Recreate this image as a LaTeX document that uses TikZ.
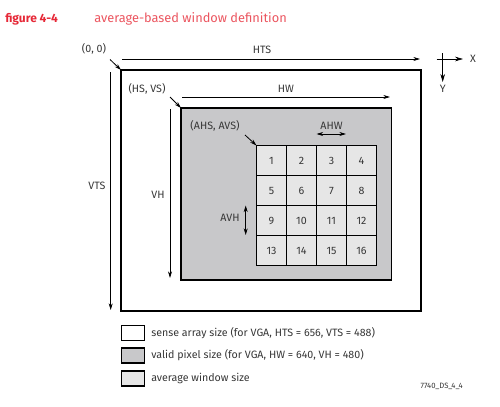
\documentclass[tikz,border=0pt]{standalone}
\usepackage{fontspec}
\setmainfont{Fira Sans}
\usetikzlibrary{arrows.meta}
\definecolor{titlered}{RGB}{230,40,55}
\definecolor{subred}{RGB}{235,85,95}
\definecolor{validgray}{RGB}{200,200,202}
\definecolor{avggray}{RGB}{230,230,230}
\definecolor{txt}{RGB}{55,55,55}
\tikzset{
  lbl/.style={font=\fontsize{8}{9.5}\selectfont\color{txt}, inner sep=0pt},
  dim/.style={line width=0.6pt, -{Stealth[length=5pt,width=3pt]}},
  dimboth/.style={line width=0.6pt, {Stealth[length=5pt,width=3pt]}-{Stealth[length=5pt,width=3pt]}},
  cell/.style={draw, line width=0.8pt, fill=avggray, minimum width=30*0.75pt, minimum height=30*0.75pt, inner sep=0pt, font=\fontsize{8}{9.5}\selectfont\color{txt}},
  legbox/.style={draw, line width=1pt, minimum width=23*0.75pt, minimum height=15*0.75pt, inner sep=0pt},
}
\begin{document}
\begin{tikzpicture}[x=0.75pt,y=-0.75pt]
\useasboundingbox (0,0) rectangle (500,407);
% title
\node[anchor=west, inner sep=0pt, font=\fontsize{9}{11}\selectfont\bfseries, text=titlered] (fig) at (5,19) {figure 4-4};
\node[anchor=west, inner sep=0pt, font=\fontsize{9.6}{11}\selectfont, text=subred] (ttl) at (94,19) {average-based window definition};
% outer rectangle
\draw[line width=1.1pt] (121,70) rectangle (421,311);
\coordinate (o) at (121,70);
% gray rectangle
\draw[line width=0.8pt, fill=validgray] (181,108) rectangle (391.5,280);
\coordinate (hs) at (181,108);
% grid
\foreach \r in {0,1,2,3}{
  \foreach \c in {0,1,2,3}{
    \pgfmathtruncatemacro{\n}{\r*4+\c+1}
    \node[cell] (c\n) at (256.5+15+30*\c, 145.5+15+30*\r) {\n};
  }
}
\coordinate (ahs) at (256.5,145.5);
% dimension arrows
\coordinate (htsL) at (122,59); \coordinate (htsR) at (420,59);
\draw[dim] (htsL) -- (htsR);
\node[lbl] (hts) at (262,50) {HTS};
\coordinate (hwL) at (182,97); \coordinate (hwR) at (390,97);
\draw[dim] (hwL) -- (hwR);
\node[lbl] (hw) at (286,89) {HW};
\coordinate (vtsT) at (110.7,72); \coordinate (vtsB) at (110.7,310);
\draw[dim] (vtsT) -- (vtsB);
\node[lbl] (vts) at (97,186) {VTS};
\coordinate (vhT) at (170,109); \coordinate (vhB) at (170,278);
\draw[dim] (vhT) -- (vhB);
\node[lbl] (vh) at (158,195) {VH};
% corner labels
\node[lbl] (zero) at (94,49) {(0, 0)};
\coordinate (zt) at (110,59.5);
\draw[dim] (zt) -- (o);
\node[lbl] (hsvs) at (147,89) {(HS, VS)};
\coordinate (ht) at (170,97);
\draw[dim] (ht) -- (hs);
\node[lbl] (ahsavs) at (215,126) {(AHS, AVS)};
\coordinate (at) at (245,135);
\draw[dim] (at) -- (ahs);
% AHW / AVH
\node[lbl] (ahw) at (331.5,125.5) {AHW};
\coordinate (ahwL) at (316.5,134); \coordinate (ahwR) at (346,134);
\draw[dimboth] (ahwL) -- (ahwR);
\node[lbl] (avh) at (230,218) {AVH};
\coordinate (avhT) at (245.7,205.5); \coordinate (avhB) at (245.7,235);
\draw[dimboth] (avhT) -- (avhB);
% axes
\coordinate (xl) at (436.5,59); \coordinate (xr) at (463,59);
\coordinate (yt) at (442.7,53); \coordinate (yb) at (442.7,82);
\draw[line width=0.6pt, -{Stealth[length=6pt,width=3.5pt]}] (xl) -- (xr);
\draw[line width=0.6pt, -{Stealth[length=6pt,width=3.5pt]}] (yt) -- (yb);
\node[lbl] (X) at (473,59) {X};
\node[lbl] (Y) at (442.7,88.5) {Y};
% legend
\node[legbox, fill=white] (l1) at (132.7,333.3) {};
\node[legbox, fill=validgray] (l2) at (132.7,355.5) {};
\node[legbox, fill=avggray] (l3) at (132.7,378.5) {};
\node[lbl, anchor=west] (t1) at (151,333.3) {sense array size (for VGA, HTS = 656, VTS = 488)};
\node[lbl, anchor=west] (t2) at (151,355.5) {valid pixel size (for VGA, HW = 640, VH = 480)};
\node[lbl, anchor=west] (t3) at (151,378.5) {average window size};
\node[lbl, anchor=east, font=\fontsize{5.8}{7}\selectfont\color{txt}] (code) at (463,386) {7740\_DS\_4\_4};
\end{tikzpicture}
\end{document}
